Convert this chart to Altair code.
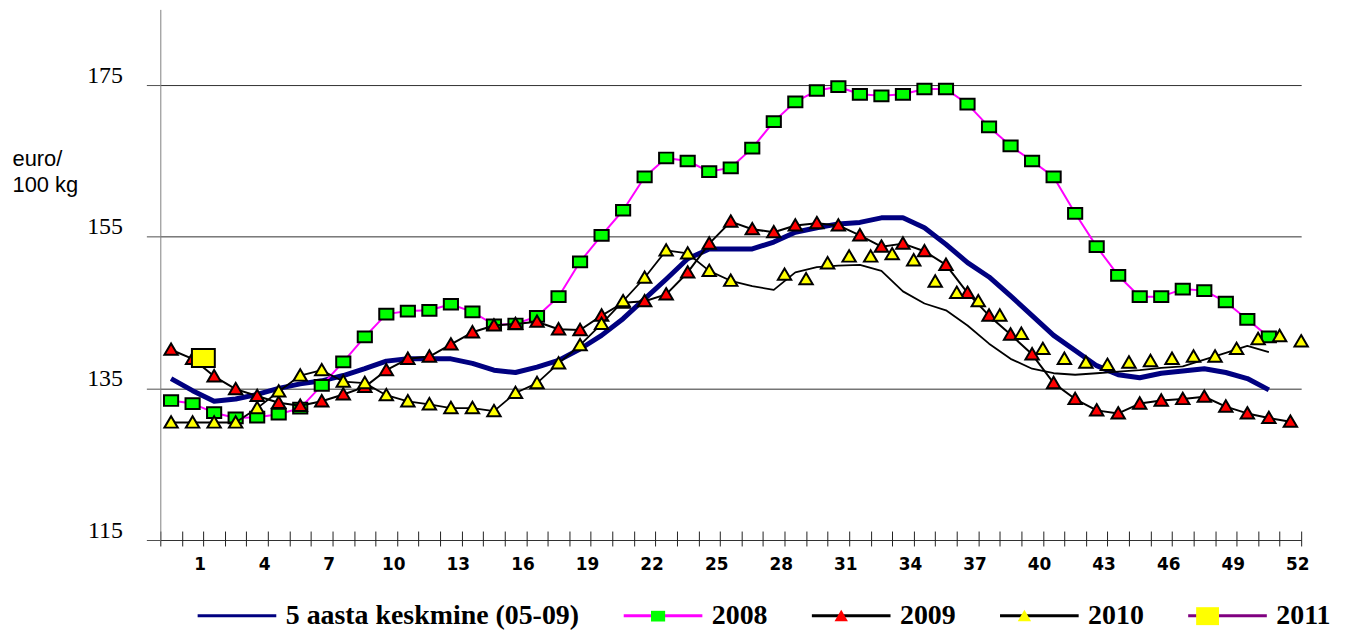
import altair as alt
import pandas as pd

AVG = "5 aasta keskmine (05-09)"
series_names = [AVG, "2008", "2009", "2010", "2011"]
line_colors = ["#000080", "#ff00ff", "#000000", "#000000", "#800080"]
marker_fills = ["transparent", "#00ff00", "#ff0000", "#ffff00", "#ffff00"]

week_labels = [1, 4, 7, 10, 13, 16, 19, 22, 25, 28, 31, 34, 37, 40, 43, 46, 49, 52]

avg5 = [136.3, 134.7, 133.3, 133.6, 134.2, 135.0, 135.6, 136.0, 136.7, 137.6,
        138.6, 138.9, 138.9, 138.9, 138.3, 137.4, 137.1, 137.8, 138.7, 140.2,
        142.0, 144.2, 146.8, 149.4, 152.1, 153.4, 153.4, 153.4, 154.3, 155.6,
        156.2, 156.7, 156.9, 157.5, 157.5, 156.2, 154.0, 151.6, 149.7, 147.2,
        144.6, 142.0, 140.0, 138.0, 136.8, 136.4, 137.0, 137.3, 137.6, 137.1,
        136.3, 134.8]

y2008 = [133.4, 133.0, 131.8, 131.1, 131.2, 131.6, 132.4, 135.4, 138.5, 141.8,
         144.8, 145.2, 145.3, 146.1, 145.1, 143.4, 143.5, 144.5, 147.1, 151.7,
         155.2, 158.5, 162.9, 165.4, 165.0, 163.6, 164.1, 166.7, 170.2, 172.8,
         174.3, 174.8, 173.8, 173.6, 173.8, 174.5, 174.5, 172.5, 169.5, 167.0,
         165.0, 162.9, 158.1, 153.7, 149.9, 147.1, 147.1, 148.1, 147.9, 146.4,
         144.1, 141.8]

y2009 = [140.1, 138.9, 136.6, 134.9, 134.0, 133.1, 132.7, 133.3, 134.2, 135.2,
         137.4, 138.9, 139.2, 140.8, 142.4, 143.3, 143.5, 143.8, 142.8, 142.7,
         144.6, 146.3, 146.5, 147.4, 150.3, 154.1, 157.0, 156.0, 155.6, 156.5,
         156.8, 156.5, 155.2, 153.7, 154.1, 153.1, 151.3, 147.6, 144.6, 142.1,
         139.5, 135.7, 133.6, 132.1, 131.7, 133.0, 133.4, 133.6, 133.9, 132.6,
         131.7, 131.1, 130.6]

# 2010: markers and line coincide for the first 27 weeks
y2010_head = [130.5, 130.5, 130.5, 130.5, 132.4, 134.6, 136.7, 137.4, 135.9, 135.7,
              134.1, 133.3, 132.9, 132.4, 132.4, 132.0, 134.4, 135.7, 138.3, 140.7,
              143.5, 146.5, 149.6, 153.2, 152.8, 150.5, 149.2]
# later 2010 markers (drawn half a week to the right)
x2010_marker_tail = [28.5 + k for k in range(25)]
y2010_marker_tail = [150.0, 149.4, 151.5, 152.4, 152.4, 152.7, 151.9, 149.1, 147.6, 146.5,
                     144.6, 142.2, 140.2, 138.9, 138.4, 138.1, 138.4, 138.6, 138.9, 139.2,
                     139.2, 140.2, 141.5, 141.9, 141.2]
# later 2010 line (no markers)
y2010_line_tail = [148.5, 148.0, 150.3, 151.0, 151.2, 151.3, 150.5, 147.8, 146.2, 145.3,
                   143.3, 140.9, 138.9, 137.6, 137.0, 136.8, 137.0, 137.2, 137.4, 137.7,
                   137.9, 138.8, 139.7, 140.6, 139.8]

x2011 = [1.5]
y2011 = [139.0]

# ---------- tables ----------
line_rows = []
for i, v in enumerate(avg5):
    line_rows.append({"idx": i, "val": v, "series": AVG})
for i, v in enumerate(y2008):
    line_rows.append({"idx": i, "val": v, "series": "2008"})
for i, v in enumerate(y2009):
    line_rows.append({"idx": i, "val": v, "series": "2009"})
for i, v in enumerate(y2010_head + y2010_line_tail):
    line_rows.append({"idx": i, "val": v, "series": "2010"})
lines_df = pd.DataFrame(line_rows)

pt_rows = []
for i, v in enumerate(y2008):
    pt_rows.append({"idx": i, "val": v, "mk": "m:2008"})
for i, v in enumerate(y2009):
    pt_rows.append({"idx": i, "val": v, "mk": "m:2009"})
for i, v in enumerate(y2010_head):
    pt_rows.append({"idx": i, "val": v, "mk": "m:2010"})
for x, v in zip(x2010_marker_tail, y2010_marker_tail):
    pt_rows.append({"idx": x, "val": v, "mk": "m:2010"})
for x, v in zip(x2011, y2011):
    pt_rows.append({"idx": x, "val": v, "mk": "m:2011"})
pts_df = pd.DataFrame(pt_rows)

# ---------- scales ----------
x_scale = alt.Scale(domain=[-0.5, 52.5], nice=False, zero=False)
y_scale = alt.Scale(domain=[115, 185], nice=False, zero=False)
stroke_scale = alt.Scale(domain=series_names, range=line_colors)
mk_domain = ["m:" + s for s in series_names]
fill_scale = alt.Scale(domain=mk_domain, range=marker_fills)
SQ = "M-0.18,-0.136H0.18V0.136H-0.18Z"
TRI = "M0,-0.16L0.17,0.13L-0.17,0.13Z"
BIGSQ = "M-0.291,-0.228H0.291V0.228H-0.291Z"
shape_scale = alt.Scale(domain=mk_domain, range=["M0,0", SQ, TRI, TRI, BIGSQ])

SYM = 6241  # 79 px wide legend symbol

common_legend = dict(
    title=None, orient="none", legendX=36, legendY=568, direction="horizontal",
    symbolSize=SYM, labelFont="Liberation Serif", labelFontSize=28,
    labelFontWeight="bold", labelColor="black", labelOffset=8,
    columnPadding=38, padding=0, labelLimit=0,
)
legend_a = alt.Legend(symbolType="M-1,0H1", symbolStrokeWidth=3, zindex=0, **common_legend)
legend_b = alt.Legend(symbolStrokeWidth=2.5, symbolStrokeColor="black", labelOpacity=0,
                      labelExpr="substring(datum.value, 2)", zindex=1, **common_legend)

label_expr = ("indexof([" + ",".join(str(w) for w in week_labels) +
              "], datum.value + 0.5) >= 0 ? format(datum.value + 0.5, 'd') : ''")

x_axis = alt.Axis(
    orient="bottom", values=[-0.5 + k for k in range(54)], domain=False,
    ticks=True, tickSize=15, tickColor="#202020", tickWidth=1, offset=-9,
    grid=False, title=None, labelExpr=label_expr,
    labelFont="DejaVu Sans", labelFontWeight="bold", labelFontSize=17,
    labelColor="black", labelPadding=11, labelOffset=17.8, labelFlush=False,
    labelOverlap=False, labelBound=False,
)
y_axis = alt.Axis(
    orient="left", values=[115, 135, 155, 175], grid=True, gridColor="#303030",
    gridWidth=1, domain=True, domainColor="#808080", tickSize=14, tickColor="#505050",
    labelFont="Liberation Serif", labelFontSize=24, labelColor="black",
    labelPadding=24, labelBaseline="alphabetic", labelOffset=-3, labelFlush=False,
    title=["euro/", "100 kg"], titleAngle=0, titleFont="Liberation Sans",
    titleFontSize=22, titleFontWeight="normal", titleColor="black",
    titleAlign="left", titleBaseline="alphabetic", titleX=-149, titleY=157,
    titleLineHeight=26,
)


def line_layer(name, width):
    return alt.Chart(lines_df[lines_df.series == name]).mark_line(
        strokeWidth=width, strokeJoin="round"
    ).encode(
        x=alt.X("idx:Q", scale=x_scale, axis=x_axis),
        y=alt.Y("val:Q", scale=y_scale, axis=y_axis),
        stroke=alt.Stroke("series:N", scale=stroke_scale, legend=legend_a),
    )


def point_layer(name):
    return alt.Chart(pts_df[pts_df.mk == "m:" + name]).mark_point(
        filled=True, size=SYM, stroke="black", strokeWidth=2, opacity=1
    ).encode(
        x=alt.X("idx:Q", scale=x_scale, axis=x_axis),
        y=alt.Y("val:Q", scale=y_scale, axis=y_axis),
        fill=alt.Fill("mk:N", scale=fill_scale, legend=legend_b),
        shape=alt.Shape("mk:N", scale=shape_scale, legend=legend_b),
    )


layers = [
    line_layer(AVG, 5),
    line_layer("2008", 2),
    point_layer("2008"),
    line_layer("2009", 2),
    point_layer("2009"),
    line_layer("2010", 1.8),
    point_layer("2010"),
    point_layer("2011"),
]

chart = alt.layer(*layers).properties(
    width=1146,
    height=533,
    autosize=alt.AutoSizeParams(type="none"),
    padding={"left": 153, "top": 0, "right": 36, "bottom": 90},
    background="white",
).configure_view(strokeWidth=0)

chart.save("out.html", embed_options={"renderer": "svg", "actions": False})
